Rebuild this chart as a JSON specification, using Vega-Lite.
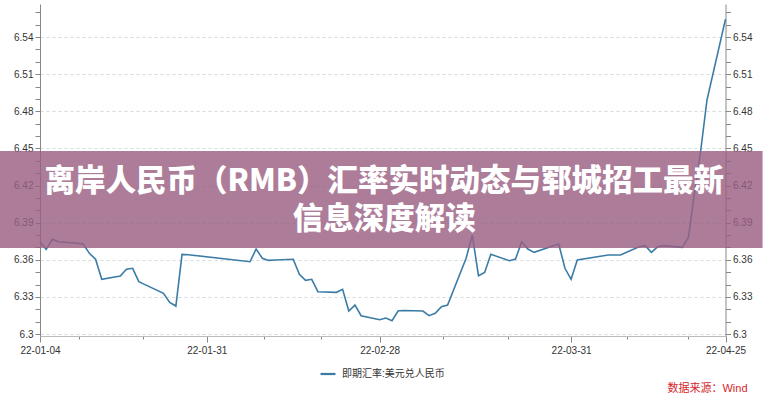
{
  "$schema": "https://vega.github.io/schema/vega-lite/v6.json",
  "width": 685.5,
  "height": 332,
  "autosize": "none",
  "padding": {"left": 40, "top": 4, "right": 42.5, "bottom": 64},
  "background": "white",
  "config": {
    "view": {"stroke": null},
    "font": "Liberation Sans, Noto Sans CJK SC"
  },
  "title": {
    "text": "数据来源：Wind",
    "orient": "bottom",
    "anchor": "end",
    "frame": "bounds",
    "color": "#d7262b",
    "fontSize": 11,
    "fontWeight": "normal",
    "font": "Liberation Sans, Noto Sans CJK SC",
    "offset": 4,
    "dx": -15
  },
  "datasets": {
    "rate": [
      {"date": "2022-01-04", "value": 6.3746},
      {"date": "2022-01-05", "value": 6.3684},
      {"date": "2022-01-06", "value": 6.3765},
      {"date": "2022-01-07", "value": 6.3746},
      {"date": "2022-01-10", "value": 6.3733},
      {"date": "2022-01-11", "value": 6.3727},
      {"date": "2022-01-12", "value": 6.3652},
      {"date": "2022-01-13", "value": 6.3604},
      {"date": "2022-01-14", "value": 6.3442},
      {"date": "2022-01-17", "value": 6.3469},
      {"date": "2022-01-18", "value": 6.3523},
      {"date": "2022-01-19", "value": 6.3531},
      {"date": "2022-01-20", "value": 6.3423},
      {"date": "2022-01-21", "value": 6.3399},
      {"date": "2022-01-24", "value": 6.3329},
      {"date": "2022-01-25", "value": 6.3256},
      {"date": "2022-01-26", "value": 6.3226},
      {"date": "2022-01-27", "value": 6.3644},
      {"date": "2022-01-28", "value": 6.3641},
      {"date": "2022-02-07", "value": 6.3584},
      {"date": "2022-02-08", "value": 6.3687},
      {"date": "2022-02-09", "value": 6.3612},
      {"date": "2022-02-10", "value": 6.3595},
      {"date": "2022-02-11", "value": 6.3598},
      {"date": "2022-02-14", "value": 6.3604},
      {"date": "2022-02-15", "value": 6.3482},
      {"date": "2022-02-16", "value": 6.3434},
      {"date": "2022-02-17", "value": 6.3442},
      {"date": "2022-02-18", "value": 6.3342},
      {"date": "2022-02-21", "value": 6.3337},
      {"date": "2022-02-22", "value": 6.3361},
      {"date": "2022-02-23", "value": 6.3186},
      {"date": "2022-02-24", "value": 6.3234},
      {"date": "2022-02-25", "value": 6.3148},
      {"date": "2022-02-28", "value": 6.3116},
      {"date": "2022-03-01", "value": 6.3129},
      {"date": "2022-03-02", "value": 6.3108},
      {"date": "2022-03-03", "value": 6.3188},
      {"date": "2022-03-04", "value": 6.319},
      {"date": "2022-03-07", "value": 6.3186},
      {"date": "2022-03-08", "value": 6.3148},
      {"date": "2022-03-09", "value": 6.3167},
      {"date": "2022-03-10", "value": 6.3221},
      {"date": "2022-03-11", "value": 6.3234},
      {"date": "2022-03-14", "value": 6.3612},
      {"date": "2022-03-15", "value": 6.38},
      {"date": "2022-03-16", "value": 6.3471},
      {"date": "2022-03-17", "value": 6.3498},
      {"date": "2022-03-18", "value": 6.3644},
      {"date": "2022-03-21", "value": 6.3592},
      {"date": "2022-03-22", "value": 6.3606},
      {"date": "2022-03-23", "value": 6.3746},
      {"date": "2022-03-24", "value": 6.3687},
      {"date": "2022-03-25", "value": 6.366},
      {"date": "2022-03-28", "value": 6.3711},
      {"date": "2022-03-29", "value": 6.3727},
      {"date": "2022-03-30", "value": 6.3531},
      {"date": "2022-03-31", "value": 6.3442},
      {"date": "2022-04-01", "value": 6.3598},
      {"date": "2022-04-06", "value": 6.3638},
      {"date": "2022-04-07", "value": 6.3638},
      {"date": "2022-04-08", "value": 6.3638},
      {"date": "2022-04-11", "value": 6.3705},
      {"date": "2022-04-12", "value": 6.3714},
      {"date": "2022-04-13", "value": 6.366},
      {"date": "2022-04-14", "value": 6.3705},
      {"date": "2022-04-15", "value": 6.3714},
      {"date": "2022-04-18", "value": 6.37},
      {"date": "2022-04-19", "value": 6.3781},
      {"date": "2022-04-20", "value": 6.4147},
      {"date": "2022-04-21", "value": 6.4487},
      {"date": "2022-04-22", "value": 6.4891},
      {"date": "2022-04-25", "value": 6.5545}
    ],
    "banner": [
      {"headline": "离岸人民币（RMB）汇率实时动态与郓城招工最新\n信息深度解读"}
    ]
  },
  "layer": [
    {
      "data": {"name": "rate"},
      "transform": [{"calculate": "'即期汇率:美元兑人民币'", "as": "series"}],
      "mark": {"type": "line", "strokeWidth": 1.6, "interpolate": "linear"},
      "encoding": {
        "x": {
          "field": "date",
          "type": "temporal",
          "scale": {
            "type": "utc",
            "nice": false,
            "domain": [
              {"year": 2022, "month": 1, "date": 4, "utc": true},
              {"year": 2022, "month": 4, "date": 25, "utc": true}
            ]
          },
          "axis": {
            "title": null,
            "values": [
              {"year": 2022, "month": 1, "date": 4, "utc": true},
              {"year": 2022, "month": 1, "date": 10, "hours": 7, "utc": true},
              {"year": 2022, "month": 1, "date": 20, "hours": 18, "utc": true},
              {"year": 2022, "month": 1, "date": 31, "utc": true},
              {"year": 2022, "month": 2, "date": 9, "hours": 7, "utc": true},
              {"year": 2022, "month": 2, "date": 18, "hours": 12, "utc": true},
              {"year": 2022, "month": 2, "date": 28, "utc": true},
              {"year": 2022, "month": 3, "date": 10, "hours": 7, "utc": true},
              {"year": 2022, "month": 3, "date": 20, "hours": 18, "utc": true},
              {"year": 2022, "month": 3, "date": 31, "utc": true},
              {"year": 2022, "month": 4, "date": 9, "hours": 2, "utc": true},
              {"year": 2022, "month": 4, "date": 19, "utc": true},
              {"year": 2022, "month": 4, "date": 25, "utc": true}
            ],
            "labelExpr": "utcFormat(datum.value, '%H') == '00' && indexof(['01-10','04-19'], utcFormat(datum.value, '%m-%d')) < 0 ? utcFormat(datum.value, '%y-%m-%d') : ''",
            "tickSize": {"condition": {"test": "utcFormat(datum.value, '%H') == '00' && indexof(['01-10','04-19'], utcFormat(datum.value, '%m-%d')) < 0", "value": 6}, "value": 3},
            "labelFontSize": 10,
            "labelColor": "#333333",
            "labelPadding": 3,
            "labelFlush": false,
            "labelOverlap": false,
            "domainColor": "#bbbbbb",
            "tickColor": "#888888",
            "grid": false
          }
        },
        "y": {
          "field": "value",
          "type": "quantitative",
          "scale": {"domain": [6.2984, 6.5667], "zero": false, "nice": false},
          "axis": {
            "title": null,
            "orient": "left",
            "values": [6.30, 6.31, 6.32, 6.33, 6.34, 6.35, 6.36, 6.37, 6.38, 6.39, 6.40, 6.41, 6.42, 6.43, 6.44, 6.45, 6.46, 6.47, 6.48, 6.49, 6.50, 6.51, 6.52, 6.53, 6.54, 6.55, 6.56],
            "labelExpr": "round(datum.value*100) % 3 == 0 ? toString(round(datum.value*100)/100) : ''",
            "labelFontSize": 10,
            "labelColor": "#333333",
            "labelPadding": 2,
            "labelOverlap": false,
            "labelFlush": false,
            "tickSize": 5,
            "tickColor": "#888888",
            "domainColor": "#888888",
            "grid": true,
            "gridDash": [3, 3],
            "gridColor": "#d5dadd",
            "gridOpacity": {"condition": {"test": "round(datum.value*100) % 3 == 0", "value": 1}, "value": 0}
          }
        },
        "color": {
          "field": "series",
          "type": "nominal",
          "scale": {"range": ["#3a7ca6"]},
          "legend": {
            "title": null,
            "orient": "none",
            "legendX": 279,
            "legendY": 361,
            "symbolType": "stroke",
            "symbolSize": 225,
            "symbolStrokeWidth": 2.2,
            "labelFontSize": 10,
            "labelColor": "#333333",
            "labelOffset": 5,
            "labelFont": "Liberation Sans, Noto Sans CJK SC"
          }
        }
      }
    },
    {
      "data": {"name": "rate"},
      "mark": {"type": "line", "opacity": 0},
      "encoding": {
        "x": {"field": "date", "type": "temporal"},
        "y": {
          "field": "value",
          "type": "quantitative",
          "axis": {
            "title": null,
            "orient": "right",
            "values": [6.30, 6.31, 6.32, 6.33, 6.34, 6.35, 6.36, 6.37, 6.38, 6.39, 6.40, 6.41, 6.42, 6.43, 6.44, 6.45, 6.46, 6.47, 6.48, 6.49, 6.50, 6.51, 6.52, 6.53, 6.54, 6.55, 6.56],
            "labelExpr": "round(datum.value*100) % 3 == 0 ? toString(round(datum.value*100)/100) : ''",
            "labelFontSize": 10,
            "labelColor": "#333333",
            "labelPadding": 2,
            "labelOverlap": false,
            "labelFlush": false,
            "tickSize": 5,
            "tickColor": "#888888",
            "domainColor": "#888888",
            "grid": false
          }
        }
      }
    },
    {
      "data": {"name": "banner"},
      "mark": {"type": "rect", "fill": "#9a5f82", "opacity": 0.82},
      "encoding": {
        "x": {"datum": {"year": 2021, "month": 12, "date": 28, "hours": 12, "utc": true}, "type": "temporal"},
        "x2": {"datum": {"year": 2022, "month": 5, "date": 1, "utc": true}},
        "y": {"datum": 6.4479, "type": "quantitative", "axis": null},
        "y2": {"datum": 6.3695}
      }
    },
    {
      "data": {"name": "banner"},
      "mark": {
        "type": "text",
        "color": "white",
        "font": "Noto Sans CJK SC",
        "fontWeight": 900,
        "fontSize": 30.5,
        "lineBreak": "\n",
        "lineHeight": 38,
        "align": "center",
        "baseline": "middle"
      },
      "encoding": {
        "x": {"datum": {"year": 2022, "month": 2, "date": 28, "hours": 18, "utc": true}, "type": "temporal"},
        "y": {"datum": 6.4225, "type": "quantitative", "axis": null},
        "text": {"field": "headline"}
      }
    }
  ],
  "resolve": {"axis": {"y": "independent"}}
}
